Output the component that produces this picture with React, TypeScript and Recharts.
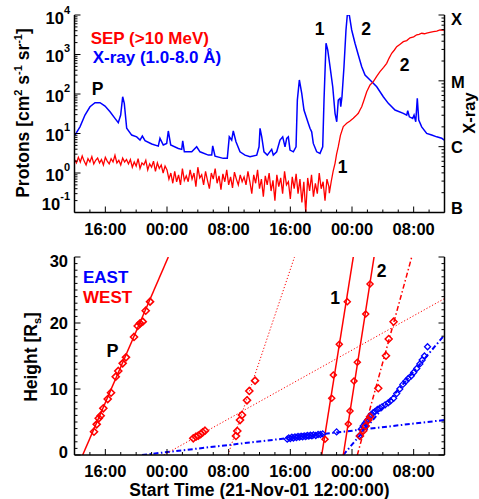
import React from 'react';
import { ComposedChart, Line, Scatter, XAxis, YAxis } from 'recharts';

const FONT = '"Liberation Sans", Arial, Helvetica, sans-serif';
const RED = '#ff0000';
const BLUE = '#0000ff';

// ---------- shared time axis (hours since 21-Nov-01 12:00) ----------
const hourMajor = [4, 12, 20, 28, 36, 44];
const hourLabels = ['16:00', '00:00', '08:00', '16:00', '00:00', '08:00'];
const hourMinor = [2, 6, 8, 10, 14, 16, 18, 22, 24, 26, 30, 32, 34, 38, 40, 42, 46];

// ---------- top panel: SEP protons (>10 MeV) ----------
const sepStep = 0.25; // hours between samples of the pre-event record
const sepNoise = [
  2.2, 1.8, 2.5, 1.9, 2.7, 2.0, 1.6, 2.3, 1.9, 2.6, 1.7, 2.1, 2.4, 1.8, 2.2, 1.6, 2.5, 2.0, 1.7, 2.3, 1.9, 2.8, 1.8, 2.1, 1.6, 2.4, 1.9, 2.2,
  1.7, 2.2, 1.4, 1.9, 1.5, 2.3, 1.3, 1.8, 1.6, 2.1, 1.2, 1.7, 1.4, 2.0, 1.1, 1.8, 1.3, 1.6, 1.0, 1.5,
  1.2, 0.7, 1.0, 0.55, 1.1, 0.6, 0.9, 0.5, 1.3, 0.65, 0.85,
  0.6, 1.2, 0.7, 1.0, 0.45, 1.4, 0.75, 0.9, 0.5, 1.1, 0.65, 0.4, 1.0, 0.7, 1.3, 0.55, 0.85, 0.38, 0.95, 0.6, 1.2, 0.5, 0.8, 0.42, 1.05, 0.7, 0.5, 0.9, 0.6,
  0.8, 0.5, 1.1, 0.6, 0.3, 0.9, 0.55, 1.2, 0.4, 0.7, 0.25, 0.85, 0.5, 1.0, 0.35, 0.65, 0.2, 0.9, 0.45, 0.75, 0.3, 1.1, 0.5, 0.6, 0.22, 0.8, 0.4, 0.95, 0.3, 0.7, 0.18, 0.6, 0.1, 0.75, 0.35, 0.9, 0.25, 0.55, 0.3, 1.0, 0.4, 0.6, 0.2, 0.7, 0.45,
];
const sepRiseT = [33.06, 33.3, 33.55, 33.8, 34.0, 34.22, 34.5, 34.87, 35.1, 35.31, 35.7, 36.17, 36.5, 36.82, 37.05, 37.26, 37.56, 37.91, 38.34, 38.77, 39.2, 39.63, 40.1, 40.5, 40.8, 41.15, 41.5, 41.8, 42.2, 42.66, 43.1, 43.53, 44.0, 44.4, 44.7, 45.04, 45.4, 45.69, 46.1, 46.55, 47.0, 47.42, 47.98];
const sepRiseV = [0.31, 0.6, 1.1, 1.76, 3.0, 4.63, 9.0, 14.9, 16.5, 18.1, 20.5, 24.3, 28, 32.5, 40, 47.7, 70.5, 114, 169, 205, 280, 367, 470, 598, 800, 1072, 1300, 1574, 1800, 2108, 2250, 2650, 2800, 3150, 3250, 3450, 3350, 3500, 3650, 3800, 3900, 4200, 4150];

// ---------- top panel: GOES X-ray flux (1.0-8.0 A), W m^-2 ----------
const xrT = [0.06, 0.71, 1.36, 2.01, 2.66, 3.31, 3.96, 4.61, 5.25, 5.68, 5.99, 6.25, 6.46, 6.77, 7.42, 8.07, 8.5, 8.8, 9.15, 10.02, 10.87, 11.09, 11.52, 11.96, 12.17, 12.48, 13.47, 13.91, 14.04, 14.25, 15.21, 15.85, 16.28, 17.36, 17.8, 17.93, 18.23, 19.3, 19.82, 20.08, 20.39, 20.6, 20.95, 21.47, 22.12, 22.77, 23.64, 23.94, 24.07, 24.29, 24.58, 25.01, 25.58, 25.79, 26.23, 26.66, 27.01, 27.31, 27.53, 27.74, 27.96, 28.39, 28.74, 28.91, 29.17, 29.48, 29.77, 30.33, 30.55, 30.77, 30.98, 31.42, 31.85, 32.2, 32.37, 32.63, 32.85, 33.15, 33.5, 33.8, 34.02, 34.22, 34.45, 34.54, 34.7, 34.96, 35.22, 35.39, 35.65, 35.96, 36.39, 36.82, 37.26, 37.69, 38.34, 39.21, 40.06, 40.71, 41.58, 42.66, 43.1, 43.23, 43.44, 43.88, 44.05, 44.27, 44.47, 44.66, 45.04, 45.69, 46.34, 46.99, 47.64, 47.98];
const xrV = [1.5e-6, 2.0e-6, 3.02e-6, 4.04e-6, 4.65e-6, 4.65e-6, 4.14e-6, 3.39e-6, 2.69e-6, 2.31e-6, 3.02e-6, 5.73e-6, 4.55e-6, 1.9e-6, 1.5e-6, 1.41e-6, 1.26e-6, 1.45e-6, 1.23e-6, 1.1e-6, 1.02e-6, 1.34e-6, 1.06e-6, 1.12e-6, 1.73e-6, 1.06e-6, 9.4e-7, 9.1e-7, 1.23e-6, 8.35e-7, 8.35e-7, 9.95e-7, 8.35e-7, 7.44e-7, 7.44e-7, 1.03e-6, 7.19e-7, 6.64e-7, 6.64e-7, 1.41e-6, 1.26e-6, 1.73e-6, 1.19e-6, 8.35e-7, 7.44e-7, 7.03e-7, 7.44e-7, 9.95e-7, 1.9e-6, 1.41e-6, 8.35e-7, 7.44e-7, 9.1e-7, 7.44e-7, 8.35e-7, 1.26e-6, 1.41e-6, 9.95e-7, 1.34e-6, 1.41e-6, 8.87e-7, 8.35e-7, 9.95e-7, 5.1e-6, 1.03e-5, 6.46e-6, 3.6e-6, 2.26e-6, 1.9e-6, 1.68e-6, 1.12e-6, 8.35e-7, 7.9e-7, 9.95e-7, 5.1e-6, 3.72e-5, 2.94e-5, 1.64e-5, 8.13e-6, 3.21e-6, 2.39e-6, 5.1e-6, 5.42e-6, 4.04e-6, 5.73e-6, 1.64e-5, 5.92e-5, 1.0e-4, 1.0e-4, 5.92e-5, 3.72e-5, 2.47e-5, 1.64e-5, 1.22e-5, 1.03e-5, 8.13e-6, 5.73e-6, 4.55e-6, 3.6e-6, 3.21e-6, 3.02e-6, 3.51e-6, 2.84e-6, 2.69e-6, 3.02e-6, 2.39e-6, 5.42e-6, 2.54e-6, 2.0e-6, 1.59e-6, 1.5e-6, 1.41e-6, 1.34e-6, 1.26e-6];

const protonMajor = [0.1, 1, 10, 100, 1000, 10000];
const protonExp = ['-1', '0', '1', '2', '3', '4'];
const xrMajor = [1e-7, 1e-6, 1e-5, 1e-4];
const xrClass = ['B', 'C', 'M', 'X'];
const logMantissa = [2, 3, 4, 5, 6, 7, 8, 9];

// ---------- bottom panel: CME height-time (R_s vs hours) ----------
const pFitT = [1.06, 12.17];
const pFitH = [0, 30];
const pPtsT = [2.53, 2.88, 3.14, 3.4, 3.74, 4.31, 4.74, 5.35, 5.68, 6.25, 6.68, 7.72, 8.2, 8.5, 8.85, 9.24, 9.8];
const pPtsH = [3.53, 4.65, 5.56, 5.95, 7.08, 8.48, 9.44, 11.86, 12.73, 13.89, 14.8, 17.88, 19.55, 19.95, 20.2, 21.86, 23.23];

const aFitT = [19.91, 28.54];
const aFitH = [0, 30];
const aPtsT = [20.95, 21.12, 21.47, 21.73, 22.38, 22.68, 23.42];
const aPtsH = [2.88, 3.64, 5.3, 6.06, 8.29, 9.7, 11.26];

const bFitT = [11.57, 48];
const bFitH = [0, 23.7];
const bPtsT = [15.41, 15.76, 16.06, 16.37, 16.63, 16.93];
const bPtsH = [2.53, 2.77, 2.92, 3.18, 3.44, 3.68];

const c1FitT = [32.07, 36.17];
const c1FitH = [0, 30];
const c1PtsT = [32.5, 33.37, 33.58, 34.35, 35.39];
const c1PtsH = [2.38, 8.59, 12.12, 16.77, 23.23];

const c2FitT = [34.87, 38.86];
const c2FitH = [0, 30];
const c2PtsT = [35.52, 35.74, 36.26, 36.69, 37.78, 38.34];
const c2PtsH = [4.7, 6.67, 11.21, 14.05, 21.36, 25.91];

const c3FitT = [36.69, 43.75];
const c3FitH = [0, 30];
const c3PtsT = [37.04, 37.47, 37.78, 38.12, 38.34, 39.41, 40.41, 40.76, 41.39];
const c3PtsH = [2.88, 3.68, 4.39, 5.3, 5.8, 10.11, 15.05, 17.58, 20.2];

const eSlowFitT = [8.76, 48];
const eSlowFitH = [0, 5.3];
const eSlowPtsT = [27.6, 27.8, 28.0, 28.2, 28.4, 28.6, 28.8, 29.0, 29.2, 29.4, 29.6, 29.8, 30.0, 30.2, 30.4, 30.6, 30.8, 31.0, 31.3, 31.6, 31.9, 32.2, 34.0];
const eSlowPtsH = [2.4, 2.6, 2.5, 2.7, 2.55, 2.75, 2.65, 2.8, 2.7, 2.85, 2.75, 2.9, 2.8, 2.95, 2.85, 3.0, 2.9, 3.05, 2.95, 3.1, 3.1, 3.2, 3.5];

const eFastFitT = [34.87, 48];
const eFastFitH = [0, 18.18];
const eFastPtsT = [36.95, 37.2, 37.45, 37.7, 37.9, 38.1, 38.3, 38.5, 38.75, 39.0, 39.3, 39.6, 39.9, 40.3, 40.7, 41.0, 41.4, 41.8, 42.2, 42.6, 43.0, 43.3, 43.7, 44.0, 44.4, 44.8, 45.1, 45.4, 45.8];
const eFastPtsH = [2.88, 3.9, 4.4, 4.8, 5.1, 5.4, 5.8, 6.1, 6.4, 6.6, 6.9, 7.1, 7.3, 7.6, 7.9, 8.2, 8.6, 9.3, 10.0, 10.7, 11.2, 11.6, 12.0, 12.5, 13.1, 13.8, 14.4, 15.0, 16.4];

const heightMajor = [0, 10, 20, 30];
const heightLabels = ['0', '10', '20', '30'];

// ---------- derived tables ----------
const zip = (ts: number[], vs: number[], key: string) => ts.map((t, i) => ({ t, [key]: vs[i] }));
const sepData = sepNoise.map((v, i) => ({ t: i * sepStep, v })).concat(zip(sepRiseT, sepRiseV, 'v') as any);
const xrData = zip(xrT, xrV, 'v');

const hourTicks = [...hourMajor, ...hourMinor].sort((a, b) => a - b);
const protonTicks = [...protonMajor, ...protonMajor.slice(0, 5).flatMap((d) => logMantissa.map((m) => m * d))];
const xrTicks = [...xrMajor, ...xrMajor.slice(0, 3).flatMap((d) => logMantissa.map((m) => m * d))];
const heightTicks = Array.from({ length: 31 }, (_, i) => i);

// ---------- tick renderers ----------
const txt = { fontFamily: FONT, fontWeight: 'bold' as const, fill: '#000' };

const HourTick = (props: any) => {
  const { x, y, payload, side, labels } = props;
  const v = payload ? payload.value : 0;
  const mi = hourMajor.indexOf(v);
  const len = mi >= 0 ? 6 : 3;
  const dir = side === 'bottom' ? -1 : 1;
  return (
    <g>
      <line x1={x} y1={y} x2={x} y2={y + dir * len} stroke="#000" strokeWidth={1} />
      {labels && mi >= 0 ? (
        <text x={x} y={y + 22} textAnchor="middle" fontSize={16.5} {...txt}>
          {hourLabels[mi]}
        </text>
      ) : null}
    </g>
  );
};

const ProtonTick = (props: any) => {
  const { x, y, payload } = props;
  const v = payload ? payload.value : 0;
  const mi = protonMajor.indexOf(v);
  const len = mi >= 0 ? 6 : 3;
  const off = mi === 5 ? 3 : mi === 0 ? -9 : 1.5;
  return (
    <g>
      <line x1={x} y1={y} x2={x + len} y2={y} stroke="#000" strokeWidth={1} />
      {mi >= 0 ? (
        <text x={x - 4.5} y={y + off + 6} textAnchor="end" fontSize={16.5} {...txt}>
          10
          <tspan fontSize={11} dy={-10}>
            {protonExp[mi]}
          </tspan>
        </text>
      ) : null}
    </g>
  );
};

const XrTick = (props: any) => {
  const { x, y, payload } = props;
  const v = payload ? payload.value : 0;
  const mi = xrMajor.indexOf(v);
  const len = mi >= 0 ? 6 : 3;
  const offs = [-5, 0.5, 1, 4];
  return (
    <g>
      <line x1={x} y1={y} x2={x - len} y2={y} stroke="#000" strokeWidth={1} />
      {mi >= 0 ? (
        <text x={x + 6.5} y={y + offs[mi] + 6} textAnchor="start" fontSize={16.5} {...txt}>
          {xrClass[mi]}
        </text>
      ) : null}
    </g>
  );
};

const HeightTick = (props: any) => {
  const { x, y, payload, side } = props;
  const v = payload ? payload.value : 0;
  const mi = heightMajor.indexOf(v);
  const len = mi >= 0 ? 6 : 3;
  const dir = side === 'left' ? 1 : -1;
  const offs = [-3, 0, 0, 4];
  return (
    <g>
      <line x1={x} y1={y} x2={x + dir * len} y2={y} stroke="#000" strokeWidth={1} />
      {side === 'left' && mi >= 0 ? (
        <text x={x - 6.5} y={y + offs[mi] + 6} textAnchor="end" fontSize={16.5} {...txt}>
          {heightLabels[mi]}
        </text>
      ) : null}
    </g>
  );
};

const Diamond = (props: any) => {
  const { cx, cy, color, s, sw } = props;
  if (cx == null || cy == null) return <g />;
  return (
    <path
      d={`M${cx},${cy - s} L${cx + s},${cy} L${cx},${cy + s} L${cx - s},${cy} Z`}
      fill="none"
      stroke={color}
      strokeWidth={sw}
    />
  );
};

const axisLine = { stroke: '#000', strokeWidth: 1.5 };

const timeAxes = (labels: boolean) => [
  <XAxis
    key="xb"
    xAxisId="b"
    dataKey="t"
    type="number"
    domain={[0, 48]}
    allowDataOverflow
    ticks={hourTicks}
    interval={0}
    tickSize={0}
    tickMargin={0}
    tickLine={false}
    axisLine={axisLine}
    height={25}
    tick={(p: any) => <HourTick {...p} side="bottom" labels={labels} />}
  />,
  <XAxis
    key="xt"
    xAxisId="t"
    dataKey="t"
    orientation="top"
    type="number"
    domain={[0, 48]}
    allowDataOverflow
    ticks={hourTicks}
    interval={0}
    tickSize={0}
    tickMargin={0}
    tickLine={false}
    axisLine={axisLine}
    height={0}
    tick={(p: any) => <HourTick {...p} side="top" labels={false} />}
  />,
];

function TopPanel() {
  return (
    <ComposedChart width={479} height={240} margin={{ top: 15, right: 4.5, bottom: 2.5, left: 14.5 }}>
      {timeAxes(true)}
      <YAxis
        yAxisId="l"
        type="number"
        scale="log"
        domain={[0.1, 10000]}
        allowDataOverflow
        ticks={protonTicks}
        interval={0}
        tickSize={0}
        tickMargin={0}
        tickLine={false}
        axisLine={axisLine}
        width={60}
        tick={(p: any) => <ProtonTick {...p} />}
      />
      <YAxis
        yAxisId="r"
        orientation="right"
        type="number"
        scale="log"
        domain={[1e-7, 1e-4]}
        allowDataOverflow
        ticks={xrTicks}
        interval={0}
        tickSize={0}
        tickMargin={0}
        tickLine={false}
        axisLine={axisLine}
        width={30}
        tick={(p: any) => <XrTick {...p} />}
      />
      <Line xAxisId="b" yAxisId="r" data={xrData} dataKey="v" type="linear" stroke={BLUE} strokeWidth={1.5} dot={false} activeDot={false} isAnimationActive={false} />
      <Line xAxisId="b" yAxisId="l" data={sepData} dataKey="v" type="linear" stroke={RED} strokeWidth={1.3} dot={false} activeDot={false} isAnimationActive={false} />
    </ComposedChart>
  );
}

const fitLine = (key: string, ts: number[], hs: number[], color: string, width: number, dash?: string) => (
  <Line
    key={key}
    xAxisId="b"
    yAxisId="l"
    data={zip(ts, hs, 'h')}
    dataKey="h"
    type="linear"
    stroke={color}
    strokeWidth={width}
    strokeDasharray={dash}
    dot={false}
    activeDot={false}
    isAnimationActive={false}
  />
);

const points = (key: string, ts: number[], hs: number[], color: string, s: number, sw: number) => (
  <Scatter
    key={key}
    xAxisId="b"
    yAxisId="l"
    data={zip(ts, hs, 'h')}
    isAnimationActive={false}
    shape={(p: any) => <Diamond {...p} color={color} s={s} sw={sw} />}
  />
);

function BottomPanel() {
  return (
    <ComposedChart width={479} height={259} margin={{ top: 17, right: 4.5, bottom: 19, left: 14.5 }}>
      {timeAxes(true)}
      <YAxis
        yAxisId="l"
        dataKey="h"
        type="number"
        domain={[0, 30]}
        allowDataOverflow
        ticks={heightTicks}
        interval={0}
        tickSize={0}
        tickMargin={0}
        tickLine={false}
        axisLine={axisLine}
        width={60}
        tick={(p: any) => <HeightTick {...p} side="left" />}
      />
      <YAxis
        yAxisId="r"
        orientation="right"
        type="number"
        domain={[0, 30]}
        allowDataOverflow
        ticks={heightTicks}
        interval={0}
        tickSize={0}
        tickMargin={0}
        tickLine={false}
        axisLine={axisLine}
        width={30}
        tick={(p: any) => <HeightTick {...p} side="right" />}
      />
      {fitLine('eslow', eSlowFitT, eSlowFitH, BLUE, 2, '5 2.5 1.5 2.5')}
      {fitLine('efast', eFastFitT, eFastFitH, BLUE, 2, '5 2.5 1.5 2.5')}
      {points('eslowp', eSlowPtsT, eSlowPtsH, BLUE, 3, 1.3)}
      {points('efastp', eFastPtsT, eFastPtsH, BLUE, 3, 1.3)}
      {fitLine('a', aFitT, aFitH, RED, 1, '1.2 2')}
      {fitLine('b', bFitT, bFitH, RED, 1, '1.2 2')}
      {fitLine('p', pFitT, pFitH, RED, 1.5)}
      {fitLine('c1', c1FitT, c1FitH, RED, 1.5)}
      {fitLine('c2', c2FitT, c2FitH, RED, 1.5)}
      {fitLine('c3', c3FitT, c3FitH, RED, 1.5, '5 2.5 1.5 2.5')}
      {points('pp', pPtsT, pPtsH, RED, 3.5, 1.6)}
      {points('ap', aPtsT, aPtsH, RED, 3.5, 1.6)}
      {points('bp', bPtsT, bPtsH, RED, 3.5, 1.6)}
      {points('c1p', c1PtsT, c1PtsH, RED, 3, 1.5)}
      {points('c2p', c2PtsT, c2PtsH, RED, 3, 1.5)}
      {points('c3p', c3PtsT, c3PtsH, RED, 3.5, 1.5)}
    </ComposedChart>
  );
}

function Overlay() {
  return (
    <svg width={479} height={499} style={{ position: 'absolute', left: 0, top: 0, pointerEvents: 'none' }} fontFamily={FONT} fontWeight="bold">
      <text x={90.7} y={43.5} fill={RED} fontSize={17}>SEP (&gt;10 MeV)</text>
      <text x={92.7} y={62.5} fill={BLUE} fontSize={17}>X-ray (1.0-8.0 Å)</text>
      <text x={97.5} y={95} fontSize={17.5} textAnchor="middle">P</text>
      <text x={319.5} y={35} fontSize={17.5} textAnchor="middle">1</text>
      <text x={366} y={35} fontSize={17.5} textAnchor="middle">2</text>
      <text x={404.7} y={70.7} fontSize={17.5} textAnchor="middle">2</text>
      <text x={342.7} y={173.3} fontSize={17.5} textAnchor="middle">1</text>
      <text transform="translate(28.5,113) rotate(-90)" textAnchor="middle" fontSize={17.5}>
        Protons [cm<tspan dy={-7} fontSize={11}>2</tspan>
        <tspan dy={7}> s</tspan>
        <tspan dy={-7} fontSize={11}>-1</tspan>
        <tspan dy={7}> sr</tspan>
        <tspan dy={-7} fontSize={11}>-1</tspan>
        <tspan dy={7}>]</tspan>
      </text>
      <text transform="translate(474.5,113) rotate(-90)" textAnchor="middle" fontSize={16.5}>X-ray</text>

      <text x={83} y={283} fill={BLUE} fontSize={17}>EAST</text>
      <text x={83} y={303} fill={RED} fontSize={17}>WEST</text>
      <text x={112.5} y={356.7} fontSize={18} textAnchor="middle">P</text>
      <text x={335} y={304} fontSize={17.5} textAnchor="middle">1</text>
      <text x={381.5} y={277.3} fontSize={17.5} textAnchor="middle">2</text>
      <text transform="translate(37,357) rotate(-90)" textAnchor="middle" fontSize={17.5}>
        Height [R<tspan dy={4} fontSize={11}>s</tspan>
        <tspan dy={-4}>]</tspan>
      </text>
      <text x={259.5} y={496} textAnchor="middle" fontSize={17.5}>Start Time (21-Nov-01 12:00:00)</text>
    </svg>
  );
}

export default function App() {
  return (
    <div style={{ position: 'absolute', left: 0, top: 0, width: 479, height: 499, background: '#fff' }}>
      <div style={{ position: 'absolute', left: 0, top: 0 }}>
        <TopPanel />
      </div>
      <div style={{ position: 'absolute', left: 0, top: 240 }}>
        <BottomPanel />
      </div>
      <Overlay />
    </div>
  );
}
